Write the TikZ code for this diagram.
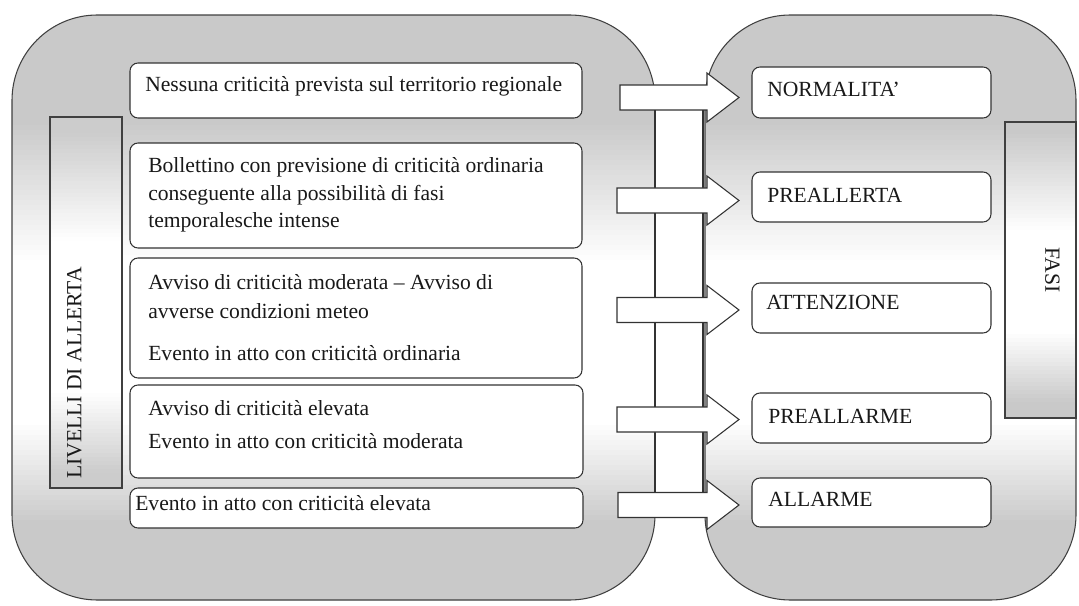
\documentclass[tikz,border=0pt]{standalone}
\usepackage{fontspec}
\setmainfont{Liberation Serif}
\usetikzlibrary{fit}
\begin{document}
\begin{tikzpicture}[x=0.75pt,y=-0.75pt,
  panel/.style={draw=black!75, line width=0.8pt, rounded corners=64pt, inner sep=0pt},
  labelbox/.style={draw=black!75, line width=0.8pt, inner sep=0pt},
  box/.style={draw=black!80, line width=0.8pt, fill=white, rounded corners=6pt, inner sep=0pt},
  txt/.style={font=\fontsize{16.2}{20}\selectfont, inner sep=0pt, text=black!90},
  barrow/.style={draw=black!80, line width=0.8pt, fill=white},
  bar/.style={draw=black!80, line width=0.8pt, fill=white}]
\useasboundingbox (0,0) rectangle (1079,606);

% panel gradients (gray top and bottom, white middle)
\begin{scope}
  \clip[rounded corners=64pt] (12,15) rectangle (655,600) (705,15) rectangle (1076,600);
  \foreach \y in {15,20,...,600}{
    \pgfmathsetmacro\p{42*max(0,min(1,(260-\y)/140))+42*max(0,min(1,(\y-420)/100))}
    \fill[gray!\p] (12,\y) rectangle (1076,\y+5.6);
  }
\end{scope}
\node[panel, fit={(12,15)(655,600)}] (lp) {};
\node[panel, fit={(705,15)(1076,600)}] (rp) {};

% side label boxes
\foreach \y in {117,121,...,488}{
  \pgfmathsetmacro\p{40*max(0,min(1,(240-\y)/110))+40*max(0,min(1,(\y-390)/80))}
  \fill[gray!\p] (50,\y) rectangle (122,{min(\y+4.6,488)});
}
\foreach \y in {122,126,...,418}{
  \pgfmathsetmacro\p{42*max(0,min(1,(230-\y)/100))+42*max(0,min(1,(\y-330)/70))}
  \fill[gray!\p] (1005,\y) rectangle (1076,{min(\y+4.6,418)});
}
\node[labelbox, fit={(50,117)(122,488)}] (lb) {};
\node[labelbox, fit={(1005,122)(1076,418)}] (fb) {};
\node[txt, rotate=90] (lvt) at (74.5,373) {LIVELLI DI ALLERTA};
\node[txt, rotate=-90] (fst) at (1052.5,270) {FASI};

% vertical connecting bar
\node[bar, fit={(655,97)(703,505)}, inner sep=0pt] (vb) {};

% block arrows
\foreach \y/\s [count=\i] in {97.5/620, 200.5/617, 310/617, 419.5/617, 505/618}{
  \draw[barrow] (\s,\y-12.5) -- (707,\y-12.5) -- (707,\y-24.5) -- (739,\y)
     -- (707,\y+24.5) -- (707,\y+12.5) -- (\s,\y+12.5) -- cycle;
}

% left boxes
\node[box, fit={(130,63)(582,118)}] (b1) {};
\node[box, fit={(130,143)(582,248)}] (b2) {};
\node[box, fit={(130,258)(582,378)}] (b3) {};
\node[box, fit={(130,385)(583,478)}] (b4) {};
\node[box, fit={(130,488)(583,528)}] (b5) {};

\node[txt, anchor=base west] (t1) at (145,92) {Nessuna criticità prevista sul territorio regionale};
\node[txt, anchor=base west] (t2a) at (148,173) {Bollettino con previsione di criticità ordinaria};
\node[txt, anchor=base west] (t2b) at (148,200.5) {conseguente alla possibilità di fasi};
\node[txt, anchor=base west] (t2c) at (148,228) {temporalesche intense};
\node[txt, anchor=base west] (t3a) at (148,290) {Avviso di criticità moderata – Avviso di};
\node[txt, anchor=base west] (t3b) at (148,318) {avverse condizioni meteo};
\node[txt, anchor=base west] (t3c) at (148,360) {Evento in atto con criticità ordinaria};
\node[txt, anchor=base west] (t4a) at (148,415) {Avviso di criticità elevata};
\node[txt, anchor=base west] (t4b) at (148,448) {Evento in atto con criticità moderata};
\node[txt, anchor=base west] (t5) at (135,510) {Evento in atto con criticità elevata};

% right boxes
\node[box, fit={(752,67)(991,118)}] (r1) {};
\node[box, fit={(752,172)(991,222)}] (r2) {};
\node[box, fit={(752,283)(991,333)}] (r3) {};
\node[box, fit={(752,393)(991,443)}] (r4) {};
\node[box, fit={(752,478)(991,527)}] (r5) {};

\node[txt, anchor=base west] (n1) at (767,97) {NORMALITA'};
\node[txt, anchor=base west] (n2) at (767,203) {PREALLERTA};
\node[txt, anchor=base west] (n3) at (766,310) {ATTENZIONE};
\node[txt, anchor=base west] (n4) at (768,423) {PREALLARME};
\node[txt, anchor=base west] (n5) at (768,506) {ALLARME};
\end{tikzpicture}
\end{document}
